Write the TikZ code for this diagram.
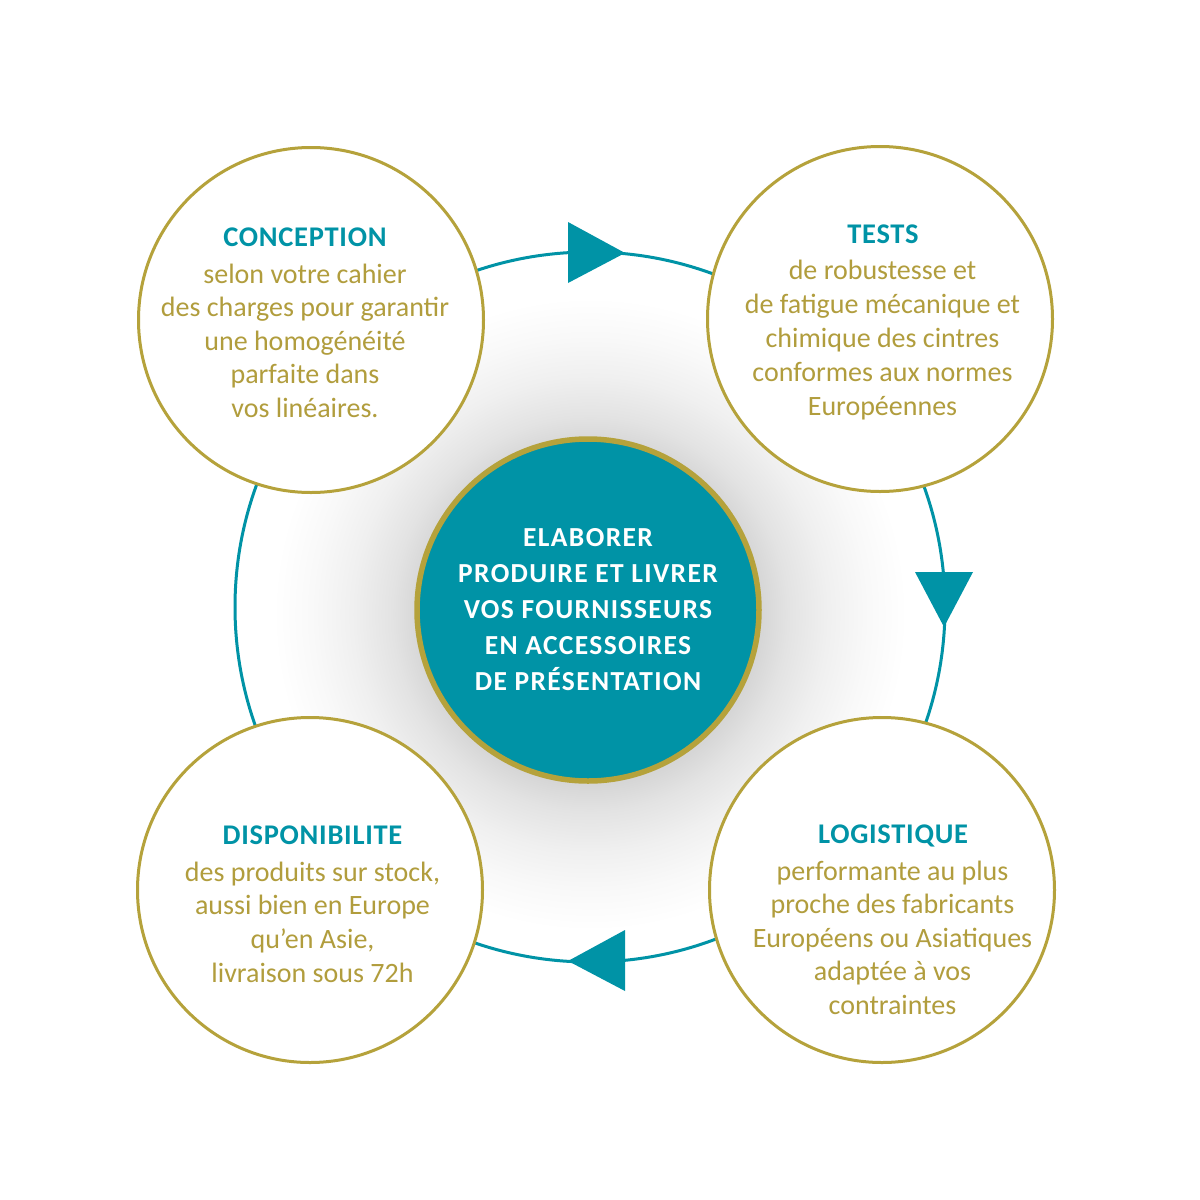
\documentclass[tikz,border=0pt]{standalone}
\usepackage{fontspec}
\setmainfont{Carlito}
\newfontfamily\headfont[LetterSpace=2.5]{Carlito}
\newfontfamily\hubfont[LetterSpace=5]{Carlito}
\definecolor{teal1}{HTML}{0093A6}
\definecolor{gold1}{HTML}{B5A23B}
\definecolor{goldtxt}{HTML}{B19D3D}
\pgfdeclareradialshading{halo}{\pgfpoint{0bp}{0bp}}{color(0bp)=(black!16); color(13bp)=(black!16); color(15bp)=(black!11); color(18bp)=(black!6); color(21bp)=(black!2.5); color(24bp)=(white); color(50bp)=(white)}
\tikzset{
 ring/.style={circle, draw=gold1, line width=3pt, fill=white, minimum size=345pt, inner sep=0pt},
 hub/.style={circle, draw=gold1, line width=5.5pt, fill=teal1, minimum size=342pt, inner sep=0pt},
 headtxt/.style={anchor=base, inner sep=0pt, text=teal1, font=\headfont\bfseries\fontsize{28.5}{34}\selectfont},
 bodytxt/.style={anchor=base, inner sep=0pt, text=goldtxt, font=\fontsize{28}{34}\selectfont},
 hubtxt/.style={anchor=base, inner sep=0pt, text=white, font=\hubfont\bfseries\fontsize{27.5}{36}\selectfont},
 cycleline/.style={draw=teal1, line width=3pt},
 tri/.style={fill=teal1}
}
\begin{document}
\begin{tikzpicture}[x=1pt,y=-1pt]
\useasboundingbox[fill=white] (0,0) rectangle (1200,1200);
\shade[shading=halo] (590,614) circle (330pt);
\draw[cycleline] (590,607) circle (355pt);
% arrowheads on the cycle
\fill[tri] (568,222) -- (625,253) -- (568,283) -- cycle;
\fill[tri] (915,572) -- (973,572) -- (944,627) -- cycle;
\fill[tri] (625,930) -- (625,991) -- (568,961) -- cycle;
% circles
\node[ring] (c1) at (311,320) {};
\node[ring] (c2) at (880,319) {};
\node[ring] (c3) at (310,890) {};
\node[ring] (c4) at (882,890) {};
\node[hub] (hub) at (588,610) {};
% texts
\node[headtxt] (h1) at (305,246.5) {CONCEPTION};
\foreach \l [count=\i] in {{selon votre cahier},{des charges pour garantir},{une homogénéité},{parfaite dans},{vos linéaires.}}
  \node[bodytxt] (t1\i) at (305,{283+33.5*(\i-1)}) {\l};
\node[headtxt] (h2) at (883,243) {TESTS};
\foreach \l [count=\i] in {{de robustesse et},{de fatigue mécanique et},{chimique des cintres},{conformes aux normes},{Européennes}}
  \node[bodytxt] (t2\i) at (882.5,{279+34*(\i-1)}) {\l};
\node[headtxt] (h3) at (312.5,844) {DISPONIBILITE};
\foreach \l [count=\i] in {{des produits sur stock,},{aussi bien en Europe},{qu’en Asie,},{livraison sous 72h}}
  \node[bodytxt] (t3\i) at (312.5,{881+33.7*(\i-1)}) {\l};
\node[headtxt] (h4) at (893,843) {LOGISTIQUE};
\foreach \l [count=\i] in {{performante au plus},{proche des fabricants},{Européens ou Asiatiques},{adaptée à vos},{contraintes}}
  \node[bodytxt] (t4\i) at (892.5,{880+33.5*(\i-1)}) {\l};
\foreach \l [count=\i] in {{ELABORER},{PRODUIRE ET LIVRER},{VOS FOURNISSEURS},{EN ACCESSOIRES},{DE PRÉSENTATION}}
  \node[hubtxt] (m\i) at (588,{546+36*(\i-1)}) {\l};
\end{tikzpicture}
\end{document}
